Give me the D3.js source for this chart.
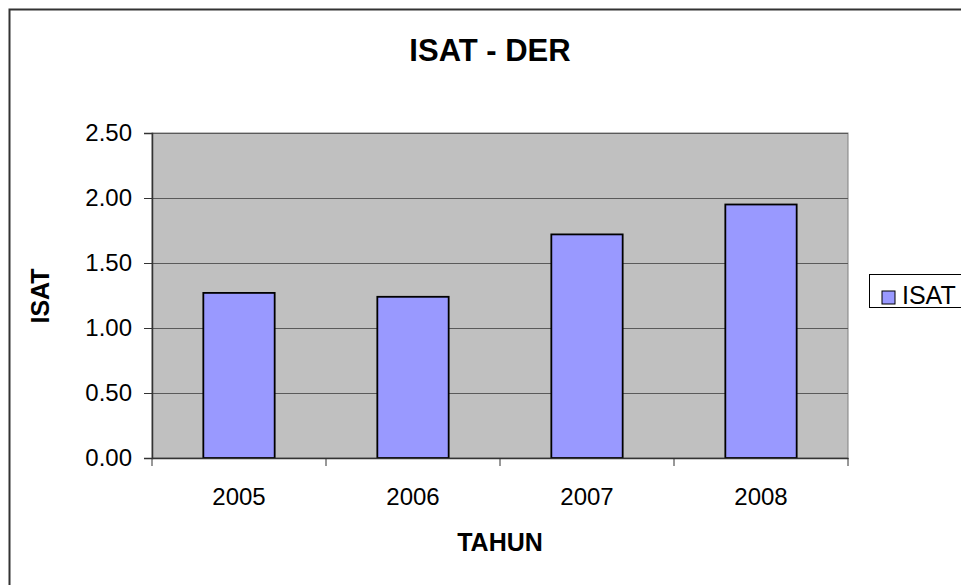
<!DOCTYPE html>
<html>
<head>
<meta charset="utf-8">
<script src="https://cdn.jsdelivr.net/npm/d3@7"></script>
<style>
  body { margin: 0; background: #fff; }
  svg { display: block; font-family: "Liberation Sans", Arial, sans-serif; }
</style>
</head>
<body>
<svg width="961" height="585"></svg>
<script>
// chart data
var years = ["2005", "2006", "2007", "2008"];
var isat = [1.27, 1.24, 1.72, 1.95];
var yTicks = [0, 0.5, 1.0, 1.5, 2.0, 2.5];

var data = years.map(function(y, i) { return { year: y, value: isat[i] }; });

var svg = d3.select("svg");

// outer chart border (runs past the window on right/bottom)
svg.append("rect")
   .attr("x", 9.5).attr("y", 9.5)
   .attr("width", 1000).attr("height", 1000)
   .attr("fill", "#fff")
   .attr("stroke", "#333").attr("stroke-width", 2);

var margin = { left: 152, top: 133, right: 848, bottom: 458 };

var x = d3.scaleBand()
          .domain(years)
          .range([margin.left, margin.right])
          .paddingInner(0.59)
          .paddingOuter(0.295);

var y = d3.scaleLinear()
          .domain([0, 2.5])
          .range([margin.bottom, margin.top]);

// plot area background
svg.append("rect")
   .attr("x", margin.left).attr("y", margin.top)
   .attr("width", margin.right - margin.left)
   .attr("height", margin.bottom - margin.top)
   .attr("fill", "#c0c0c0")
   .attr("stroke", "#808080").attr("stroke-width", 1);

// gridlines
svg.append("g")
   .selectAll("line")
   .data(yTicks.filter(function(d) { return d > 0; }))
   .enter().append("line")
   .attr("x1", margin.left).attr("x2", margin.right)
   .attr("y1", function(d) { return Math.round(y(d)) + 0.5; })
   .attr("y2", function(d) { return Math.round(y(d)) + 0.5; })
   .attr("stroke", "#5a5a5a").attr("stroke-width", 1.2);

// bars
svg.append("g")
   .selectAll("rect")
   .data(data)
   .enter().append("rect")
   .attr("x", function(d) { return x(d.year); })
   .attr("y", function(d) { return y(d.value); })
   .attr("width", x.bandwidth())
   .attr("height", function(d) { return y(0) - y(d.value); })
   .attr("fill", "#9999ff")
   .attr("stroke", "#000").attr("stroke-width", 1.8);

// y axis
var yAxis = svg.append("g")
   .attr("transform", "translate(" + margin.left + ",0)")
   .call(d3.axisLeft(y).tickValues(yTicks).tickFormat(d3.format(".2f")).tickSize(8).tickPadding(12));

// x axis, ticks sit between categories
var xAxis = svg.append("g")
   .attr("transform", "translate(0," + margin.bottom + ")")
   .call(d3.axisBottom(x).tickSize(0).tickPadding(30));

xAxis.selectAll(".sep")
   .data(d3.range(years.length + 1))
   .enter().append("line")
   .attr("class", "sep")
   .attr("x1", function(i) { return margin.left + i * x.step(); })
   .attr("x2", function(i) { return margin.left + i * x.step(); })
   .attr("y1", 0).attr("y2", 8)
   .attr("stroke", "#333");

[yAxis, xAxis].forEach(function(a) {
  a.attr("font-size", null).attr("font-family", null);
  a.selectAll(".domain").attr("stroke", "#333").attr("stroke-width", 1.5);
  a.selectAll(".tick line").attr("stroke", "#333");
  a.selectAll("text")
   .attr("fill", "#000")
   .style("font-size", "24px");
});

// title
svg.append("text")
   .attr("x", 490).attr("y", 61)
   .attr("text-anchor", "middle")
   .style("font-size", "31px")
   .style("font-weight", "bold")
   .text("ISAT - DER");

// axis titles
svg.append("text")
   .attr("x", 500).attr("y", 551)
   .attr("text-anchor", "middle")
   .style("font-size", "25px")
   .style("font-weight", "bold")
   .text("TAHUN");

svg.append("text")
   .attr("transform", "translate(49,296) rotate(-90)")
   .attr("text-anchor", "middle")
   .style("font-size", "25px")
   .style("font-weight", "bold")
   .text("ISAT");

// legend
var legend = svg.append("g").attr("transform", "translate(869,274)");
legend.append("rect")
   .attr("x", 0.5).attr("y", 0.5)
   .attr("width", 120).attr("height", 33)
   .attr("fill", "#fff")
   .attr("stroke", "#000").attr("stroke-width", 1);
legend.append("rect")
   .attr("x", 13).attr("y", 17)
   .attr("width", 13).attr("height", 13)
   .attr("fill", "#9999ff")
   .attr("stroke", "#000");
legend.append("text")
   .attr("x", 33).attr("y", 30)
   .style("font-size", "25px")
   .text("ISAT");
</script>
</body>
</html>
